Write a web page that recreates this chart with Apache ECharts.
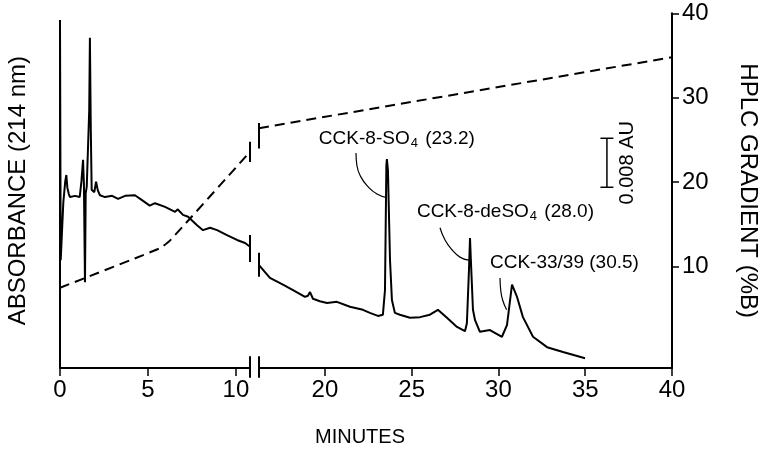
<!DOCTYPE html>
<html>
<head>
<meta charset="utf-8">
<script src="https://cdn.jsdelivr.net/npm/echarts@6/dist/echarts.min.js"></script>
<style>
  html, body { margin: 0; padding: 0; background: #fff; }
  #chart { width: 764px; height: 452px; }
</style>
</head>
<body>
<div id="chart"></div>
<script>
const FONT = "'Liberation Sans', Arial, Helvetica, sans-serif"

// chromatogram before the axis break: time (min) and absorbance (mAU)
const timeLeft = [0, 0, 0.04, 0.19, 0.30, 0.36, 0.42, 0.50, 0.57, 0.85, 1.12, 1.22, 1.31, 1.36, 1.42, 1.46, 1.52, 1.60, 1.66, 1.70, 1.75, 1.80, 1.95, 2.05, 2.15, 2.27, 2.56, 2.96, 3.30, 3.70, 4.26, 4.66, 5.10, 5.40, 5.97, 6.54, 6.70, 6.82, 6.99, 7.28, 7.79, 8.13, 8.53, 8.93, 9.49, 10.06, 10.52, 10.8]
const absLeft = [0, 56.8, 17.6, 27.1, 30.5, 31.5, 29.4, 28.4, 27.9, 28.1, 27.9, 30.5, 34.0, 29.9, 14.0, 28.5, 29.6, 29.9, 42.0, 53.9, 39.0, 29.1, 28.7, 30.4, 29.0, 28.2, 27.9, 28.1, 27.6, 28.1, 28.2, 27.4, 26.5, 26.9, 26.3, 25.5, 25.9, 25.5, 25.0, 24.7, 23.3, 22.5, 22.9, 22.5, 21.7, 20.9, 20.4, 19.8]

// chromatogram after the axis break
const timeRight = [16.2, 16.83, 17.58, 18.16, 18.85, 19.02, 19.14, 19.31, 19.71, 20.12, 20.69, 21.44, 22.19, 22.59, 23.05, 23.34, 23.46, 23.54, 23.57, 23.63, 23.75, 23.86, 24.03, 24.32, 24.90, 25.48, 26.05, 26.51, 27.03, 27.61, 28.07, 28.18, 28.30, 28.36, 28.41, 28.53, 28.65, 28.93, 29.51, 30.20, 30.49, 30.78, 31.07, 31.41, 31.99, 32.80, 33.72, 34.99]
const absRight = [16.8, 14.7, 13.6, 12.7, 11.6, 11.8, 12.4, 11.3, 10.9, 10.6, 10.8, 10.0, 9.5, 9.0, 8.5, 8.7, 12.7, 33.1, 34.1, 32.3, 17.6, 11.1, 9.0, 8.7, 8.2, 8.3, 8.7, 9.5, 8.2, 6.7, 6.0, 7.3, 16.0, 21.2, 17.6, 9.5, 7.8, 5.9, 6.2, 5.1, 7.0, 13.6, 11.6, 8.3, 5.1, 3.4, 2.6, 1.6]

// HPLC gradient (%B)
const gradTimeLeft = [0, 5.7, 6.3, 10.8]
const gradLeft = [7.5, 12.2, 13.2, 23.6]
const gradTimeRight = [16.2, 40]
const gradRight = [26.4, 34.8]

// ticks
const xTicksLeft = [0, 5, 10]
const xTicksRight = [20, 25, 30, 35, 40]
const gradTicks = [10, 20, 30, 40]

// peak labels: [time, absorbance, text]
const peakLabels = [
  [19.65, 37.5, '{n|CCK-8-SO}{s|4}{n| (23.2)}'],
  [25.30, 25.5, '{n|CCK-8-deSO}{s|4}{n| (28.0)}'],
  [29.51, 17.1, '{n|CCK-33/39 (30.5)}']
]
// leader lines from label to peak
const leaderSO4 = [[21.79, 35.1], [21.84, 33.1], [22.07, 31.2], [22.48, 29.6], [23.0, 28.4], [23.57, 27.8]]
const leaderDeSO4 = [[26.63, 22.9], [26.92, 20.9], [27.32, 19.3], [27.78, 18.1], [28.30, 17.6]]
const leader3339 = [[30.09, 14.7], [30.13, 12.7], [30.24, 11.1], [30.47, 9.5]]

// scale bar 0.008 AU = 8 mAU
const scaleBar = [[36.25, 29.5, 37.5]]

// break marks [time, low, high]
const absBreaks = { left: [[10.8, 17.3, 21.7], [10.8, -1.6, 1.9]], right: [[16.2, 14.9, 18.8], [16.2, -1.6, 1.9]] }
const gradBreaks = { left: [[10.8, 22.4, 24.8]], right: [[16.2, 24.0, 27.0]] }

const zip = (a, b) => a.map((t, i) => [t, b[i]])

function breakMark(params, api) {
  const p1 = api.coord([api.value(0), api.value(1)])
  const p2 = api.coord([api.value(0), api.value(2)])
  return {
    type: 'line',
    shape: { x1: p1[0], y1: p1[1], x2: p2[0], y2: p2[1] },
    style: { stroke: '#000', lineWidth: 2 }
  }
}

const chart = echarts.init(document.getElementById('chart'))

const axisText = { color: '#000', fontFamily: FONT, fontSize: 24 }
const blackLine = { lineStyle: { color: '#000', width: 2 } }

chart.setOption({
  animation: false,
  backgroundColor: '#fff',
  grid: [
    { left: 60, top: 13.3, width: 190, bottom: 84, outerBoundsMode: 'none' },
    { left: 259, top: 13.3, width: 413, bottom: 84, outerBoundsMode: 'none' }
  ],
  xAxis: [
    {
      gridIndex: 0, type: 'value', min: 0, max: 10.8,
      axisLine: blackLine,
      axisTick: { show: true, customValues: xTicksLeft, length: 8, lineStyle: { color: '#000', width: 1.5 } },
      axisLabel: { customValues: xTicksLeft, margin: 10, ...axisText },
      splitLine: { show: false }
    },
    {
      gridIndex: 1, type: 'value', min: 16.2, max: 40,
      axisLine: blackLine,
      axisTick: { show: true, customValues: xTicksRight, length: 8, lineStyle: { color: '#000', width: 1.5 } },
      axisLabel: { customValues: xTicksRight, margin: 10, ...axisText },
      splitLine: { show: false }
    }
  ],
  yAxis: [
    {
      gridIndex: 0, type: 'value', min: 0, max: 57.9,
      name: 'ABSORBANCE (214 nm)', nameLocation: 'middle', nameRotate: 90, nameGap: 30,
      nameTextStyle: { color: '#000', fontFamily: FONT, fontSize: 24 },
      axisLine: { show: false }, axisTick: { show: false }, axisLabel: { show: false }, splitLine: { show: false }
    },
    { gridIndex: 0, type: 'value', min: -2, max: 40, show: false },
    { gridIndex: 1, type: 'value', min: 0, max: 57.9, show: false },
    {
      gridIndex: 1, type: 'value', min: -2, max: 40, position: 'right',
      name: 'HPLC GRADIENT (%B)', nameLocation: 'middle', nameRotate: -90, nameGap: 64,
      nameTextStyle: { color: '#000', fontFamily: FONT, fontSize: 24 },
      axisLine: { show: true, ...blackLine },
      axisTick: { show: true, customValues: gradTicks, length: 7, lineStyle: { color: '#000', width: 1.5 } },
      axisLabel: { customValues: gradTicks, margin: 10, ...axisText },
      splitLine: { show: false }
    }
  ],
  graphic: [
    { type: 'text', x: 360, y: 437, style: { text: 'MINUTES', fill: '#000', font: '20px ' + FONT, align: 'center', verticalAlign: 'middle' } }
  ],
  series: [
    { type: 'line', xAxisIndex: 0, yAxisIndex: 0, data: zip(timeLeft, absLeft), symbol: 'none', lineStyle: { color: '#000', width: 2 } },
    { type: 'line', xAxisIndex: 1, yAxisIndex: 2, data: zip(timeRight, absRight), symbol: 'none', lineStyle: { color: '#000', width: 2 } },
    { type: 'line', xAxisIndex: 0, yAxisIndex: 1, data: zip(gradTimeLeft, gradLeft), symbol: 'none', smooth: 0.15, lineStyle: { color: '#000', width: 2, type: [10, 6] } },
    { type: 'line', xAxisIndex: 1, yAxisIndex: 3, data: zip(gradTimeRight, gradRight), symbol: 'none', lineStyle: { color: '#000', width: 2, type: [10, 6] } },
    ...[leaderSO4, leaderDeSO4, leader3339].map(d => ({
      type: 'line', xAxisIndex: 1, yAxisIndex: 2, data: d, symbol: 'none', smooth: 0.5,
      lineStyle: { color: '#000', width: 1.2 }
    })),
    { type: 'custom', xAxisIndex: 0, yAxisIndex: 0, data: absBreaks.left, renderItem: breakMark },
    { type: 'custom', xAxisIndex: 1, yAxisIndex: 2, data: absBreaks.right, renderItem: breakMark },
    { type: 'custom', xAxisIndex: 0, yAxisIndex: 1, data: gradBreaks.left, renderItem: breakMark },
    { type: 'custom', xAxisIndex: 1, yAxisIndex: 3, data: gradBreaks.right, renderItem: breakMark },
    {
      type: 'custom', xAxisIndex: 1, yAxisIndex: 2, data: peakLabels,
      renderItem: (params, api) => {
        const p = api.coord([api.value(0), api.value(1)])
        return {
          type: 'text', x: p[0], y: p[1],
          style: {
            text: peakLabels[params.dataIndex][2],
            align: 'left', verticalAlign: 'middle', fill: '#000',
            rich: {
              n: { fontSize: 19, fontFamily: FONT, fill: '#000' },
              s: { fontSize: 13, fontFamily: FONT, fill: '#000', padding: [10, 2, 0, 1] }
            }
          }
        }
      }
    },
    {
      type: 'custom', xAxisIndex: 1, yAxisIndex: 2, data: scaleBar,
      renderItem: (params, api) => {
        const lo = api.coord([api.value(0), api.value(1)])
        const hi = api.coord([api.value(0), api.value(2)])
        const st = { stroke: '#000', lineWidth: 1.5 }
        return {
          type: 'group',
          children: [
            { type: 'line', shape: { x1: lo[0], y1: lo[1], x2: hi[0], y2: hi[1] }, style: st },
            { type: 'line', shape: { x1: lo[0] - 6.5, y1: lo[1], x2: lo[0] + 6.5, y2: lo[1] }, style: st },
            { type: 'line', shape: { x1: hi[0] - 6.5, y1: hi[1], x2: hi[0] + 6.5, y2: hi[1] }, style: st },
            {
              type: 'text', x: lo[0] + 21, y: (lo[1] + hi[1]) / 2, rotation: Math.PI / 2,
              style: { text: '0.008 AU', fill: '#000', font: '20px ' + FONT, align: 'center', verticalAlign: 'middle' }
            }
          ]
        }
      }
    }
  ]
})
</script>
</body>
</html>
